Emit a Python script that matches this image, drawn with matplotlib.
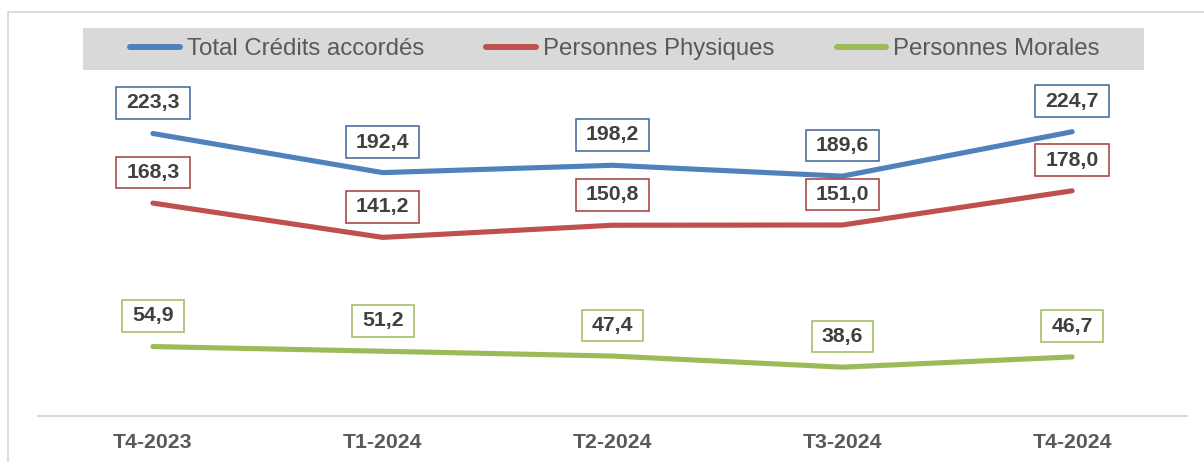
import matplotlib
matplotlib.use('Agg')
import matplotlib.pyplot as plt
from matplotlib.lines import Line2D
from matplotlib.patches import Rectangle
from matplotlib.path import Path

# ── Data ──────────────────────────────────────────────────────────────────────
quarters = ['T4-2023', 'T1-2024', 'T2-2024', 'T3-2024', 'T4-2024']
total    = [223.3, 192.4, 198.2, 189.6, 224.7]
physique = [168.3, 141.2, 150.8, 151.0, 178.0]
morale   = [54.9, 51.2, 47.4, 38.6, 46.7]
names    = ['Total Crédits accordés', 'Personnes Physiques', 'Personnes Morales']

BLUE, RED, GREEN = '#4F81BD', '#C0504D', '#9BBB59'
EDGES = ['#3A6598', '#A33B38', '#9BBB59']

plt.rcParams['font.family'] = ['Liberation Sans', 'DejaVu Sans']

W, H = 1204, 462


def wide_box(x0, y0, width, height, mutation_size):
    # data-label box: a bit more room left/right than above/below
    px, py = 0.47 * mutation_size, 0.3 * mutation_size
    x0, y0 = x0 - px, y0 - py
    x1, y1 = x0 + width + 2 * px, y0 + height + 2 * py
    return Path([(x0, y0), (x1, y0), (x1, y1), (x0, y1), (x0, y0)], closed=True)


fig = plt.figure(figsize=(W / 100, H / 100), dpi=100)

# light frame round the chart area
fig.patches.append(Rectangle((8 / W, -0.2), 1.2, 1.2 - 12 / H,
                             transform=fig.transFigure, fill=False,
                             edgecolor='#D9D9D9', linewidth=1.3))

ax = fig.add_axes([38 / W, 46 / H, (1187 - 38) / W, (416 - 99.75) / H])
x = range(len(quarters))

series = [total, physique, morale]
colors = [BLUE, RED, GREEN]
for vals, col, edge in zip(series, colors, EDGES):
    ax.plot(x, vals, color=col, lw=3.7, solid_capstyle='round', zorder=3)
    for i, v in enumerate(vals):
        ax.annotate(f'{v:.1f}'.replace('.', ','), (i, v), xytext=(0, 22),
                    textcoords='offset points', ha='center', va='center',
                    fontsize=15.3, fontweight='bold', color='#404040',
                    bbox=dict(boxstyle=wide_box, fc='white', ec=edge, lw=1.1),
                    annotation_clip=False, zorder=4)

ax.set_xlim(-0.5, len(quarters) - 0.5)
ax.set_ylim(0, 250)
ax.set_xticks(list(x))
ax.set_xticklabels(quarters, fontsize=15.3, fontweight='bold', color='#595959')
ax.tick_params(axis='x', length=0, pad=12)
ax.set_yticks([])
for s in ['top', 'left', 'right']:
    ax.spines[s].set_visible(False)
ax.spines['bottom'].set_color('#D9D9D9')
ax.spines['bottom'].set_linewidth(1.5)
ax.patch.set_alpha(0)

# legend with grey band behind it
fig.patches.append(Rectangle((83 / W, 1 - 70 / H), (1144 - 83) / W, 42 / H,
                             transform=fig.transFigure, facecolor='#D9D9D9',
                             edgecolor='none', zorder=0))
handles = [Line2D([], [], color=c, lw=4.3, solid_capstyle='round') for c in colors]
fig.legend(handles, names, loc='center', bbox_to_anchor=(615 / W, 1 - 49 / H),
           ncol=3, frameon=False, fontsize=17.3, labelcolor='#595959',
           handlelength=2.05, handletextpad=0.3, columnspacing=2.6)

fig.savefig('out.png', dpi=100)
